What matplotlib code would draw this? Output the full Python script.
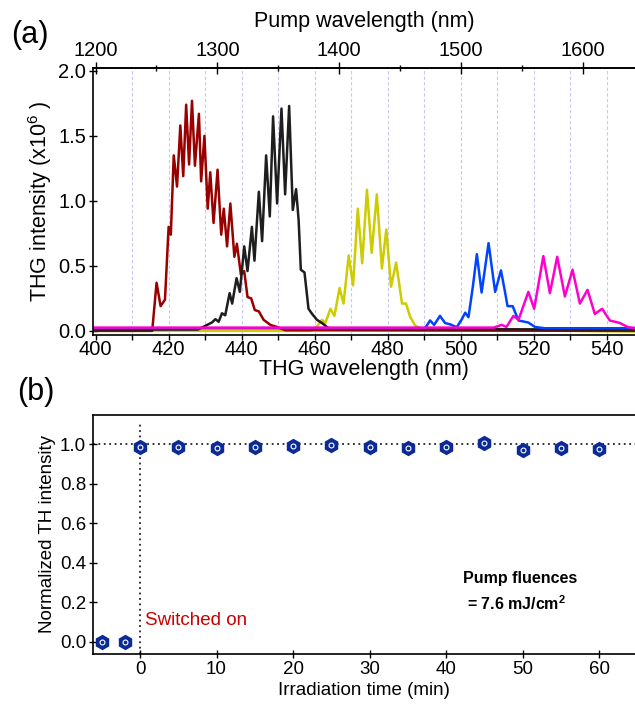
import matplotlib
matplotlib.use('Agg')
import matplotlib.pyplot as plt
from matplotlib.ticker import MultipleLocator, FixedLocator

plt.rcParams['font.family'] = ['Liberation Sans', 'DejaVu Sans']
plt.rcParams['mathtext.fontset'] = 'custom'
plt.rcParams['mathtext.rm'] = 'Liberation Sans'
plt.rcParams['mathtext.bf'] = 'Liberation Sans:bold'

# THG spectra (wavelength nm, intensity x10^6)
red_wl = [399.5, 415.5, 416.7, 417.8, 419.0, 420.0, 420.6, 421.4, 422.3, 423.2, 424.0,
          424.8, 425.6, 426.4, 427.2, 428.3, 428.9, 429.8, 430.7, 431.4, 432.3, 433.4,
          434.4, 435.1, 436.0, 436.9, 438.0, 438.7, 439.8, 440.7, 441.6, 442.6, 443.6,
          444.7, 446.0, 447.9, 449.7, 452.0, 548]
red_v = [0.0, 0.0, 0.37, 0.19, 0.24, 0.80, 0.74, 1.35, 1.11, 1.58, 1.19,
         1.74, 1.28, 1.77, 1.27, 1.67, 1.15, 1.50, 0.94, 1.22, 0.83, 1.24,
         0.74, 0.94, 0.65, 0.98, 0.57, 0.67, 0.43, 0.46, 0.26, 0.25, 0.16,
         0.15, 0.085, 0.045, 0.03, 0.005, 0.0]

black_wl = [399.5, 428.0, 430.5, 431.9, 432.8, 433.7, 434.6, 435.5, 436.7, 437.4, 438.6,
            439.5, 440.7, 441.6, 442.8, 443.5, 444.7, 445.6, 446.7, 447.7, 448.6, 449.7,
            450.9, 451.9, 453.0, 454.0, 454.9, 455.6, 456.2, 457.2, 458.3, 459.3, 460.6,
            462.0, 464.0, 548]
black_v = [0.01, 0.01, 0.045, 0.065, 0.09, 0.07, 0.135, 0.12, 0.29, 0.21, 0.405,
           0.30, 0.65, 0.46, 0.80, 0.54, 1.07, 0.69, 1.35, 0.88, 1.65, 0.98,
           1.71, 1.05, 1.73, 0.93, 1.09, 0.85, 0.47, 0.45, 0.17, 0.13, 0.085,
           0.06, 0.015, 0.01]

yellow_wl = [399.5, 458.8, 460.6, 462.0, 462.9, 464.3, 465.4, 466.8, 467.9, 469.3, 470.5,
             471.8, 473.0, 474.3, 475.6, 477.0, 478.4, 479.6, 480.9, 482.3, 483.9, 485.0,
             486.1, 487.5, 489.8, 548]
yellow_v = [0.0, 0.0, 0.033, 0.085, 0.06, 0.17, 0.115, 0.33, 0.21, 0.58, 0.35,
            0.94, 0.52, 1.085, 0.60, 1.05, 0.48, 0.78, 0.34, 0.525, 0.21, 0.21,
            0.11, 0.04, 0.01, -0.005]

blue_wl = [399.5, 490.2, 491.6, 492.7, 494.3, 495.7, 497.1, 498.9, 500.3, 501.2, 502.1,
           503.3, 504.4, 505.7, 507.6, 509.4, 511.0, 512.1, 512.8, 514.2, 515.8, 518.5,
           520.3, 523.0, 548]
blue_v = [0.02, 0.02, 0.08, 0.046, 0.115, 0.06, 0.05, 0.028, 0.09, 0.14, 0.105,
          0.34, 0.59, 0.295, 0.675, 0.30, 0.465, 0.30, 0.19, 0.19, 0.08, 0.064,
          0.03, 0.02, 0.02]

magenta_wl = [399.5, 509.0, 511.2, 512.5, 514.4, 515.8, 518.5, 520.1, 522.6, 524.4, 526.4,
              528.5, 530.6, 532.6, 534.7, 536.7, 538.7, 540.8, 543.6, 545.8, 548]
magenta_v = [0.025, 0.025, 0.046, 0.03, 0.115, 0.085, 0.30, 0.17, 0.575, 0.29, 0.57,
             0.265, 0.47, 0.21, 0.315, 0.13, 0.17, 0.08, 0.06, 0.028, 0.022]

pump_ticks = [1200, 1300, 1400, 1500, 1600]
pump_minor = [1250, 1350, 1450, 1550]

# normalized TH intensity vs irradiation time
time_min = [-5, -2, 0, 5, 10, 15, 20, 25, 30, 35, 40, 45, 50, 55, 60]
norm_th = [0.0, 0.0, 0.986, 0.986, 0.978, 0.983, 0.99, 0.993, 0.986, 0.978,
           0.986, 1.003, 0.97, 0.98, 0.975]

fig = plt.figure(figsize=(6.35, 7.11), dpi=100)

# ---- (a) ----
ax1 = fig.add_axes([0.1465, 0.529, 0.8535, 0.3755])
for wl in range(410, 550, 10):
    ax1.axvline(wl, color='#c8c8f5', lw=0.8, ls=(0, (3, 2)), zorder=0)
curves = [(yellow_wl, yellow_v, '#cccc00'), (red_wl, red_v, '#990000'),
          (black_wl, black_v, '#1e1e1e'), (blue_wl, blue_v, '#0044ff'),
          (magenta_wl, magenta_v, '#ff00cc')]
for x, y, c in curves:
    ax1.plot(x, y, color=c, lw=1.8, solid_joinstyle='round')
ax1.set_xlim(399.3, 547.7)
ax1.set_ylim(-0.031, 2.023)
ax1.xaxis.set_major_locator(MultipleLocator(20))
ax1.xaxis.set_minor_locator(MultipleLocator(10))
ax1.yaxis.set_major_locator(MultipleLocator(0.5))
ax1.tick_params(axis='x', which='both', direction='out', length=3.5, width=1,
                labelsize=14.5, pad=0)
ax1.tick_params(axis='y', direction='inout', length=6, width=1, labelsize=14.5, pad=2)
ax1.spines['right'].set_visible(False)
for s in ['left', 'bottom', 'top']:
    ax1.spines[s].set_linewidth(1.2)
ax1.set_xlabel('THG wavelength (nm)', fontsize=15.5, labelpad=0)
ax1.set_ylabel('THG intensity (x10$^{6}$ )', fontsize=15.5, labelpad=3)

top = ax1.secondary_xaxis('top', functions=(lambda x: 3 * x, lambda x: x / 3))
top.xaxis.set_major_locator(FixedLocator(pump_ticks))
top.xaxis.set_minor_locator(FixedLocator(pump_minor))
top.tick_params(axis='x', which='major', direction='inout', length=8, width=1,
                labelsize=14.5, pad=2)
top.tick_params(axis='x', which='minor', direction='inout', length=5, width=1)
top.spines['top'].set_linewidth(1.2)
top.set_xlabel('Pump wavelength (nm)', fontsize=15.5, labelpad=10)

fig.text(0.018, 0.951, '(a)', fontsize=22, va='center')

# ---- (b) ----
ax2 = fig.add_axes([0.1465, 0.0802, 0.8535, 0.3361])
ax2.axhline(1.0, color='#222222', lw=1.3, ls=(0, (1, 2)), zorder=1)
ax2.plot([0, 0], [-0.062, 1.11], color='#222222', lw=1.3, ls=(0, (1, 2)), zorder=1)
ax2.plot(time_min, norm_th, ls='none', marker='h', ms=10, color='#0b2a96', zorder=3)
ax2.plot(time_min, norm_th, ls='none', marker='o', ms=3.5, mfc='none', mec='white',
         mew=0.8, zorder=4)
ax2.set_xlim(-6.14, 64.7)
ax2.set_ylim(-0.062, 1.147)
ax2.xaxis.set_major_locator(MultipleLocator(10))
ax2.yaxis.set_major_locator(MultipleLocator(0.2))
ax2.tick_params(direction='inout', length=6, width=1, labelsize=13.5, pad=2)
ax2.spines['right'].set_visible(False)
for s in ['left', 'bottom', 'top']:
    ax2.spines[s].set_linewidth(1.2)
ax2.set_xlabel('Irradiation time (min)', fontsize=13.5, labelpad=3)
ax2.set_ylabel('Normalized TH intensity', fontsize=13.5, labelpad=3)
ax2.text(0.6, 0.105, 'Switched on', color='#cc0000', fontsize=13.5, va='center')
ax2.text(42.2, 0.32, 'Pump fluences', fontsize=11.5, fontweight='bold', va='center')
ax2.text(42.7, 0.195, r'= 7.6 mJ/cm$^{\mathbf{2}}$', fontsize=11.5, fontweight='bold',
         va='center')

fig.text(0.027, 0.448, '(b)', fontsize=22, va='center')

fig.savefig('out.png', dpi=100)
